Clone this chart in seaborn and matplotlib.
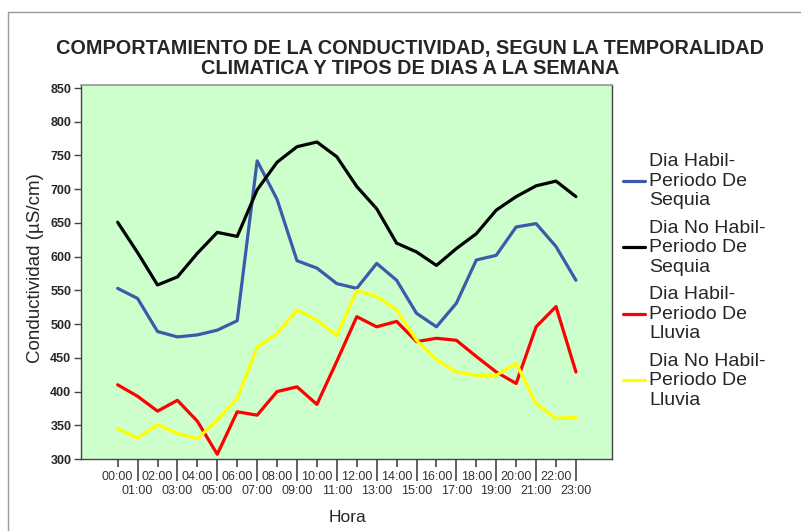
import matplotlib
matplotlib.use('Agg')
import matplotlib.pyplot as plt
import seaborn as sns
import pandas as pd
from matplotlib.lines import Line2D

# ---------------- data ----------------
hours = list(range(24))
hour_labels = ["00:00", "01:00", "02:00", "03:00", "04:00", "05:00", "06:00", "07:00",
               "08:00", "09:00", "10:00", "11:00", "12:00", "13:00", "14:00", "15:00",
               "16:00", "17:00", "18:00", "19:00", "20:00", "21:00", "22:00", "23:00"]
series_names = ["Dia Habil-\nPeriodo De\nSequia",
                "Dia No Habil-\nPeriodo De\nSequia",
                "Dia Habil-\nPeriodo De\nLluvia",
                "Dia No Habil-\nPeriodo De\nLluvia"]
habil_sequia = [553, 538, 489, 481, 484, 491, 505, 742, 685, 594, 583, 560,
                553, 590, 565, 516, 496, 531, 595, 602, 644, 649, 615, 565]
nohabil_sequia = [651, 606, 558, 570, 605, 636, 630, 699, 740, 763, 770, 748,
                  704, 671, 620, 607, 587, 612, 634, 669, 689, 705, 712, 689]
habil_lluvia = [410, 393, 371, 387, 356, 307, 370, 365, 400, 407, 381, 445,
                511, 496, 504, 474, 479, 476, 452, 429, 412, 496, 526, 429]
nohabil_lluvia = [345, 331, 351, 338, 330, 358, 390, 466, 486, 521, 506, 483,
                  550, 541, 521, 476, 447, 429, 424, 424, 442, 382, 360, 362]
title_lines = ["COMPORTAMIENTO DE LA CONDUCTIVIDAD, SEGUN LA TEMPORALIDAD",
               "CLIMATICA Y TIPOS DE DIAS A LA SEMANA"]
y_ticks = [300, 350, 400, 450, 500, 550, 600, 650, 700, 750, 800, 850]

colors = ["#3E58AC", "#000000", "#FF0000", "#FFFF00"]

# ---------------- build table ----------------
values = [habil_sequia, nohabil_sequia, habil_lluvia, nohabil_lluvia]
rows = []
for name, vals in zip(series_names, values):
    for h, v in zip(hours, vals):
        rows.append({"Hora": h, "Conductividad": v, "Serie": name})
df = pd.DataFrame(rows)

sns.set_theme(style="ticks")
plt.rcParams['font.family'] = ['Liberation Sans', 'DejaVu Sans']

fig = plt.figure(figsize=(8.01, 5.31), dpi=100)
W, H = 801, 531
ax = fig.add_axes([81 / W, 1 - 459 / H, (612 - 81) / W, (459 - 85) / H])
ax.set_facecolor("#CCFFCC")

sns.lineplot(data=df, x="Hora", y="Conductividad", hue="Serie",
             hue_order=series_names, palette=colors, linewidth=2.3,
             legend=False, sort=False, ax=ax)

ax.set_xlim(-1.84, 24.81)
ax.set_ylim(300, 854.5)

# y axis
ax.set_yticks(y_ticks)
ax.set_yticklabels([str(t) for t in y_ticks], fontsize=9, fontweight="bold")
ax.tick_params(axis="y", length=5, width=1, color="#444444", pad=2)

# x axis: even hours on upper row, odd hours on lower row
even = hours[0::2]
odd = hours[1::2]
ax.set_xticks(even)
ax.set_xticklabels(hour_labels[0::2], fontsize=9, color="#333333")
ax.set_xticks(odd, minor=True)
ax.set_xticklabels(hour_labels[1::2], minor=True, fontsize=9, color="#333333")
ax.tick_params(axis="x", which="major", length=5.8, width=1.2, color="#444444", pad=3)
ax.tick_params(axis="x", which="minor", length=15.5, width=1.2, color="#444444", pad=3)

for side in ["left", "bottom", "right"]:
    ax.spines[side].set_color("#444444")
    ax.spines[side].set_linewidth(1)
ax.spines["top"].set_color("#999999")
ax.spines["right"].set_visible(True)
ax.spines["top"].set_visible(True)

ax.set_ylabel("Conductividad (µS/cm)", fontsize=13.5)
ax.yaxis.set_label_coords((44 - 81) / 531, (459 - 268) / 374)
ax.set_xlabel("Hora", fontsize=12.5)
ax.xaxis.set_label_coords((348 - 81) / 531, (459 - 510) / 374)

# title
fig.text(410 / W, 1 - 48 / H, title_lines[0], ha="center", va="center",
         fontsize=14.3, fontweight="bold")
fig.text(410 / W, 1 - 69 / H, title_lines[1], ha="center", va="center",
         fontsize=14.3, fontweight="bold")

# legend
handles = [Line2D([], [], color=c, linewidth=2.3) for c in colors]
fig.legend(handles, series_names, loc="upper left",
           bbox_to_anchor=(623 / W, 1 - 153 / H), bbox_transform=fig.transFigure,
           frameon=False, fontsize=14, handlelength=1.15, handletextpad=0.2,
           labelspacing=0.53, borderpad=0, borderaxespad=0)

# outer frame
fig.add_artist(Line2D([8 / W, 8 / W], [0, 1 - 12 / H], transform=fig.transFigure,
                      color="#999999", linewidth=1))
fig.add_artist(Line2D([8 / W, 1], [1 - 12 / H, 1 - 12 / H], transform=fig.transFigure,
                      color="#999999", linewidth=1))

fig.savefig("out.png", dpi=100)
